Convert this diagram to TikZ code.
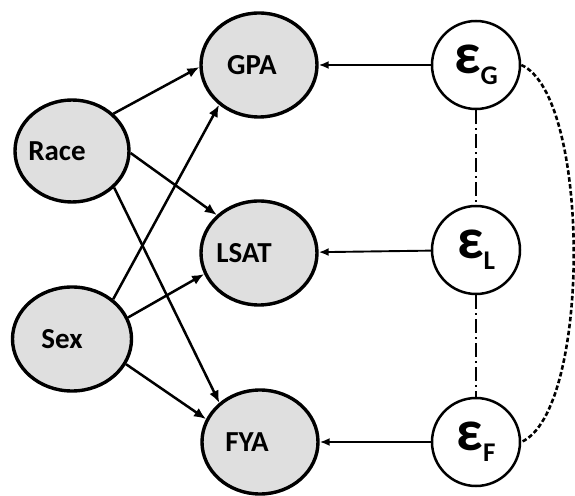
\documentclass[tikz,border=0pt]{standalone}
\usepackage{fontspec}
\setmainfont{Carlito}
\usetikzlibrary{arrows.meta, shapes.geometric}

\begin{document}
\begin{tikzpicture}[x=1pt,y=1pt]
\tikzset{obs/.style={ellipse,draw,line width=3.4pt,fill=gray!25,minimum width=116pt,minimum height=104pt,inner sep=0pt,font=\fontsize{29}{30}\selectfont\bfseries},
         err/.style={circle,draw,line width=2.5pt,fill=white,minimum size=88pt,inner sep=0pt},
         cause/.style={line width=2.5pt,-{Latex[length=12pt,width=10pt]}},
         noise/.style={line width=1.9pt,-{Latex[length=10pt,width=8pt]}},
         corr/.style={line width=2.5pt,dash pattern=on 14pt off 4pt on 2pt off 4pt},
         corrfar/.style={line width=2.6pt,dash pattern=on 4.5pt off 2.5pt}}
\def\epsl#1{{\fontsize{58}{58}\selectfont\bfseries ε}\raisebox{-11pt}{\fontsize{27}{27}\selectfont\bfseries #1}}
\useasboundingbox (0,0) rectangle (575,495);
% Observed variables
\node[obs,minimum width=114pt,minimum height=102pt] (race) at (72,344) {\kern-30pt Race};
\node[obs,minimum width=119pt] (sex) at (72,156) {\kern-20pt Sex};
\node[obs] (gpa) at (259,430) {\kern-14pt GPA};
\node[obs] (lsat) at (259,242) {\kern-30pt LSAT};
\node[obs] (fya) at (260,53) {\kern-26pt FYA};
% Error terms
\node[err] (eg) at (476,430) {\epsl{G}};
\node[err] (el) at (476,245) {\epsl{L}};
\node[err] (ef) at (476,53) {\epsl{F}};
% Causal arrows
\draw[cause] (race.42) -- (gpa.182);
\draw[cause] (race.-2) -- (lsat.138);
\draw[cause] (race.-41) -- (fya.136);
\draw[cause] (sex.44) -- (gpa.225);
\draw[cause] (sex.21) -- (lsat.201);
\draw[cause] (sex.-25) -- (fya.157);
% Error arrows
\draw[noise] (eg) -- (gpa);
\draw[noise] (el) -- (lsat);
\draw[noise] (ef) -- (fya);
% Correlated errors
\draw[corr] (eg) -- (el);
\draw[corr] (el) -- (ef);
\draw[corrfar] (eg.east) .. controls +(70,-30) and +(70,30) .. (ef.east);
\end{tikzpicture}
\end{document}
